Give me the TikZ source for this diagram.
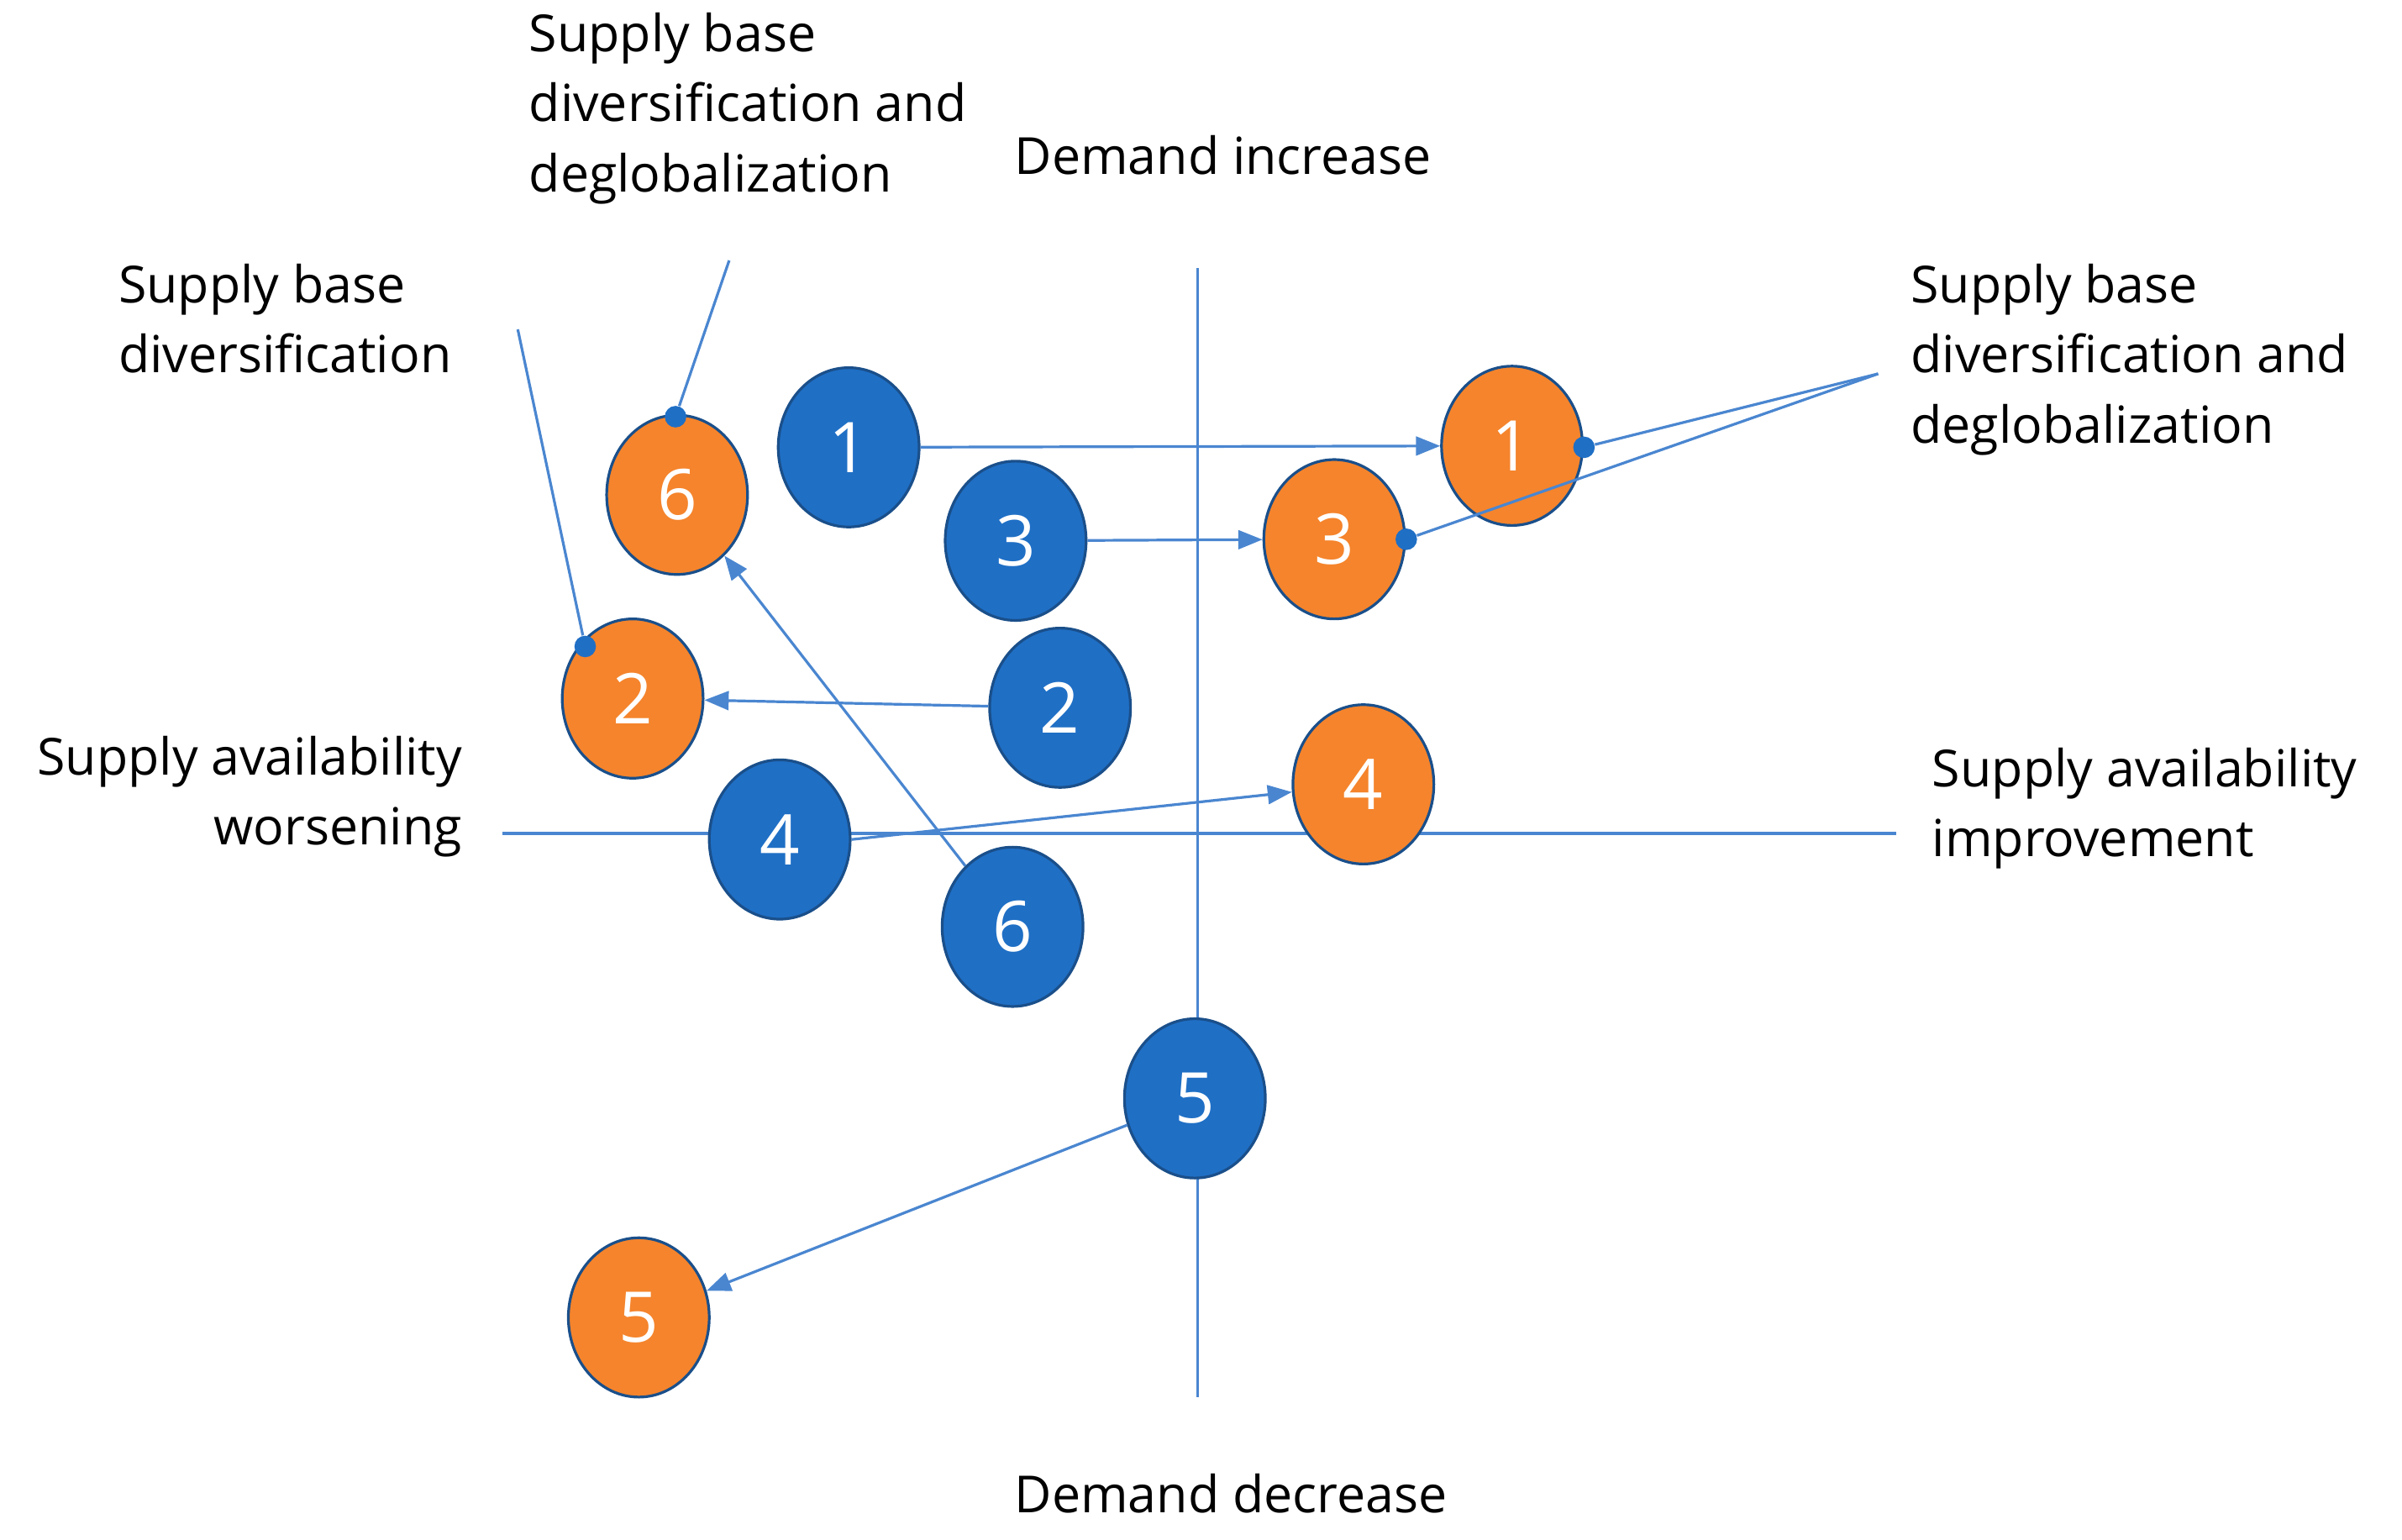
\documentclass[tikz,border=0pt]{standalone}
\usepackage{fontspec}
\setmainfont{Open Sans}
\usetikzlibrary{arrows.meta}
\definecolor{bfill}{HTML}{1F6FC5}
\definecolor{bdraw}{HTML}{1A4F8A}
\definecolor{ofill}{HTML}{F5842C}
\definecolor{odraw}{HTML}{1A4F8A}
\definecolor{ln}{HTML}{4A86D0}
\begin{document}
\begin{tikzpicture}[x=0.02cm,y=-0.02cm,
  bc/.style={ellipse,draw=bdraw,line width=1pt,fill=bfill,minimum width=1.84cm,minimum height=2.08cm,inner sep=0pt,text=white,font=\fontsize{26}{30}\selectfont},
  oc/.style={bc,fill=ofill},
  lbl/.style={font=\fontsize{19}{26}\selectfont,align=left,inner sep=0pt},
  ar/.style={ln,line width=1pt,-{Triangle[length=9pt,width=7pt]}},
  cl/.style={ln,line width=1pt},
  dot/.style={circle,fill=bfill,inner sep=0pt,minimum size=8pt}]
\usetikzlibrary{shapes.geometric}
\useasboundingbox (0,0) rectangle (1568,1005);
\draw[cl] (782,175) coordinate(vt) -- (782,912) coordinate(vb);
\draw[cl] (328,544) coordinate(hl) -- (1238,544) coordinate(hr);
\node[bc] (b1) at (554,292) {1};
\node[bc] (b3) at (663,353) {3};
\node[bc] (b2) at (692,462) {2};
\node[bc] (b4) at (509,548) {4};
\node[bc] (b6) at (661,605) {6};
\node[bc] (b5) at (780,717) {5};
\node[oc] (o6) at (442,323) {6};
\node[oc] (o2) at (413,456) {2};
\node[oc] (o1) at (987,291) {1};
\node[oc] (o3) at (871,352) {3};
\node[oc] (o4) at (890,512) {4};
\node[oc] (o5) at (417,860) {5};
\draw[ar] (b1) -- (o1);
\draw[ar] (b3) -- (o3);
\draw[ar] (b2) -- (o2);
\draw[ar] (b4.east) -- (o4);
\draw[ar] (b6) -- (o6);
\draw[ar] (b5) -- (o5);
\node[dot] (d2) at (382,422) {};
\node[dot] (d6) at (441,272) {};
\node[dot] (d1) at (1034,292) {};
\node[dot] (d3) at (918,352) {};
\coordinate (c2) at (338,215);
\coordinate (c6) at (476,170);
\coordinate (cr) at (1226,244);
\draw[cl] (c2) -- (d2);
\draw[cl] (c6) -- (d6);
\draw[cl] (cr) -- (d1);
\draw[cl] (cr) -- (d3);
\node[lbl,anchor=north west] (t1) at (345,8) {Supply base\\diversification and\\deglobalization};
\node[lbl,anchor=north west] (t2) at (77,172) {Supply base\\diversification};
\node[lbl,anchor=north west] (t3) at (1247,172) {Supply base\\diversification and\\deglobalization};
\node[lbl,anchor=north west] (t4) at (662,88) {Demand increase};
\node[lbl,anchor=north west] (t5) at (662,962) {Demand decrease};
\node[lbl,anchor=north east,align=right] (t6) at (302,480) {Supply availability\\worsening};
\node[lbl,anchor=north west] (t7) at (1261,488) {Supply availability\\improvement};
\end{tikzpicture}
\end{document}
